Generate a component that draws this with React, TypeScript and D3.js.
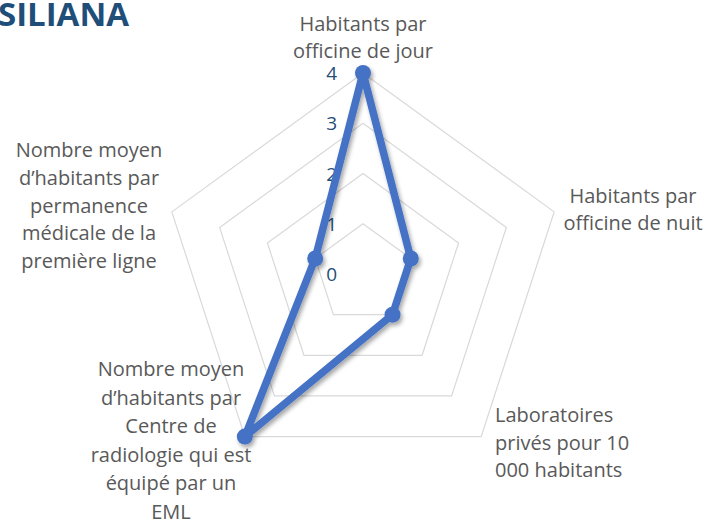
import React from "react";
import * as d3 from "d3";

const categories: string[][] = [
  ["Habitants par", "officine de jour"],
  ["Habitants par", "officine de nuit"],
  ["Laboratoires", "privés pour 10", "000 habitants"],
  ["Nombre moyen", "d’habitants par", "Centre de", "radiologie qui est", "équipé par un", "EML"],
  ["Nombre moyen", "d’habitants par", "permanence", "médicale de la", "première ligne"],
];
const values: number[] = [4, 1, 1, 4, 1];
const ticks: number[] = [0, 1, 2, 3, 4];
const gridLevels: number[] = [1, 2, 3, 4];
const title = "SILIANA";

// label layout (styling, not data)
const labelLayout = [
  { x: 363, y: 31, anchor: "middle", lh: 26.5 },
  { x: 633, y: 203, anchor: "middle", lh: 27 },
  { x: 495, y: 422, anchor: "start", lh: 27.5 },
  { x: 171, y: 376, anchor: "middle", lh: 28.5 },
  { x: 89, y: 157, anchor: "middle", lh: 27.8 },
];

const W = 711;
const H = 524;
const cx = 363;
const cy = 274;
const R = 201;
const FONT = "'Open Sans', 'DejaVu Sans', sans-serif";

export default function App() {
  const r = d3.scaleLinear().domain([0, 4]).range([0, R]);
  const n = categories.length;
  const angle = (i: number) => (i * 2 * Math.PI) / n;
  const pt = (i: number, v: number): [number, number] => [
    cx + r(v) * Math.sin(angle(i)),
    cy - r(v) * Math.cos(angle(i)),
  ];
  const radial = d3
    .lineRadial<number>()
    .angle((_, i) => angle(i))
    .radius((d) => r(d))
    .curve(d3.curveLinearClosed);

  const seriesPath = radial(values) || "";
  const gridPaths = gridLevels.map((lv) => radial(categories.map(() => lv)) || "");

  return (
    <svg
      width={W}
      height={H}
      style={{ position: "absolute", left: 0, top: 0, background: "#fff" }}
    >
      <defs>
        <filter id="shadow" x="-20%" y="-20%" width="140%" height="140%">
          <feDropShadow dx="2" dy="3" stdDeviation="2.2" floodColor="#000" floodOpacity="0.35" />
        </filter>
      </defs>
      <rect width={W} height={H} fill="#fff" />
      <text
        x={129}
        y={26}
        textAnchor="end"
        fontFamily={FONT}
        fontWeight="bold"
        fontSize={33}
        fill="#1F4E79"
      >
        {title}
      </text>
      <g transform={`translate(${cx},${cy})`}>
        {gridPaths.map((d, i) => (
          <path key={i} d={d} fill="none" stroke="#d9d9d9" strokeWidth={1.2} />
        ))}
      </g>
      {ticks.map((t) => (
        <text
          key={t}
          x={cx - 26}
          y={cy - r(t)}
          dy="0.38em"
          textAnchor="end"
          fontFamily={FONT}
          fontSize={19}
          fill="#1F4E79"
        >
          {t}
        </text>
      ))}
      <g filter="url(#shadow)">
        <path
          d={seriesPath}
          transform={`translate(${cx},${cy})`}
          fill="none"
          stroke="#4472C4"
          strokeWidth={7.5}
          strokeLinejoin="round"
        />
        {values.map((v, i) => {
          const [x, y] = pt(i, v);
          return <circle key={i} cx={x} cy={y} r={8} fill="#4472C4" />;
        })}
      </g>
      {categories.map((lines, i) => {
        const L = labelLayout[i];
        return (
          <text
            key={i}
            textAnchor={L.anchor as any}
            fontFamily={FONT}
            fontSize={20}
            fill="#595959"
          >
            {lines.map((s, j) => (
              <tspan key={j} x={L.x} y={L.y + j * L.lh}>
                {s}
              </tspan>
            ))}
          </text>
        );
      })}
    </svg>
  );
}
